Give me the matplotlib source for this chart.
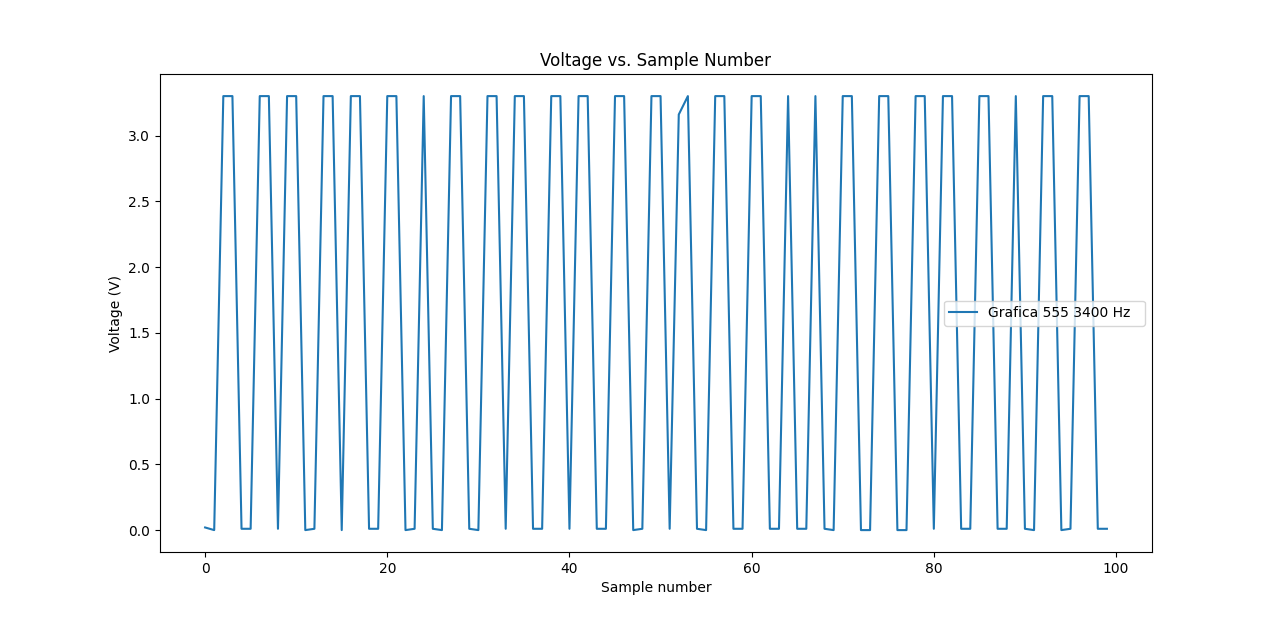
import matplotlib
matplotlib.use('Agg')
import matplotlib.pyplot as plt

# Sample readings from the 555 timer (volts)
sample_number = list(range(100))
voltage = [
    0.02, 0.00, 3.30, 3.30, 0.01, 0.01, 3.30, 3.30, 0.01, 3.30,
    3.30, 0.00, 0.01, 3.30, 3.30, 0.00, 3.30, 3.30, 0.01, 0.01,
    3.30, 3.30, 0.00, 0.01, 3.30, 0.01, 0.00, 3.30, 3.30, 0.01,
    0.00, 3.30, 3.30, 0.01, 3.30, 3.30, 0.01, 0.01, 3.30, 3.30,
    0.01, 3.30, 3.30, 0.01, 0.01, 3.30, 3.30, 0.00, 0.01, 3.30,
    3.30, 0.01, 3.16, 3.30, 0.01, 0.00, 3.30, 3.30, 0.01, 0.01,
    3.30, 3.30, 0.01, 0.01, 3.30, 0.01, 0.01, 3.30, 0.01, 0.00,
    3.30, 3.30, 0.00, 0.00, 3.30, 3.30, 0.00, 0.00, 3.30, 3.30,
    0.01, 3.30, 3.30, 0.01, 0.01, 3.30, 3.30, 0.01, 0.01, 3.30,
    0.01, 0.00, 3.30, 3.30, 0.00, 0.01, 3.30, 3.30, 0.01, 0.01,
]

fig, ax = plt.subplots(figsize=(12.8, 6.2), dpi=100)
ax.plot(sample_number, voltage, label='Grafica 555 3400 Hz  ')
ax.set_title('Voltage vs. Sample Number')
ax.set_xlabel('Sample number')
ax.set_ylabel('Voltage (V)')
ax.legend(loc='center right')
plt.savefig('out.png', dpi=100)
plt.close(fig)
